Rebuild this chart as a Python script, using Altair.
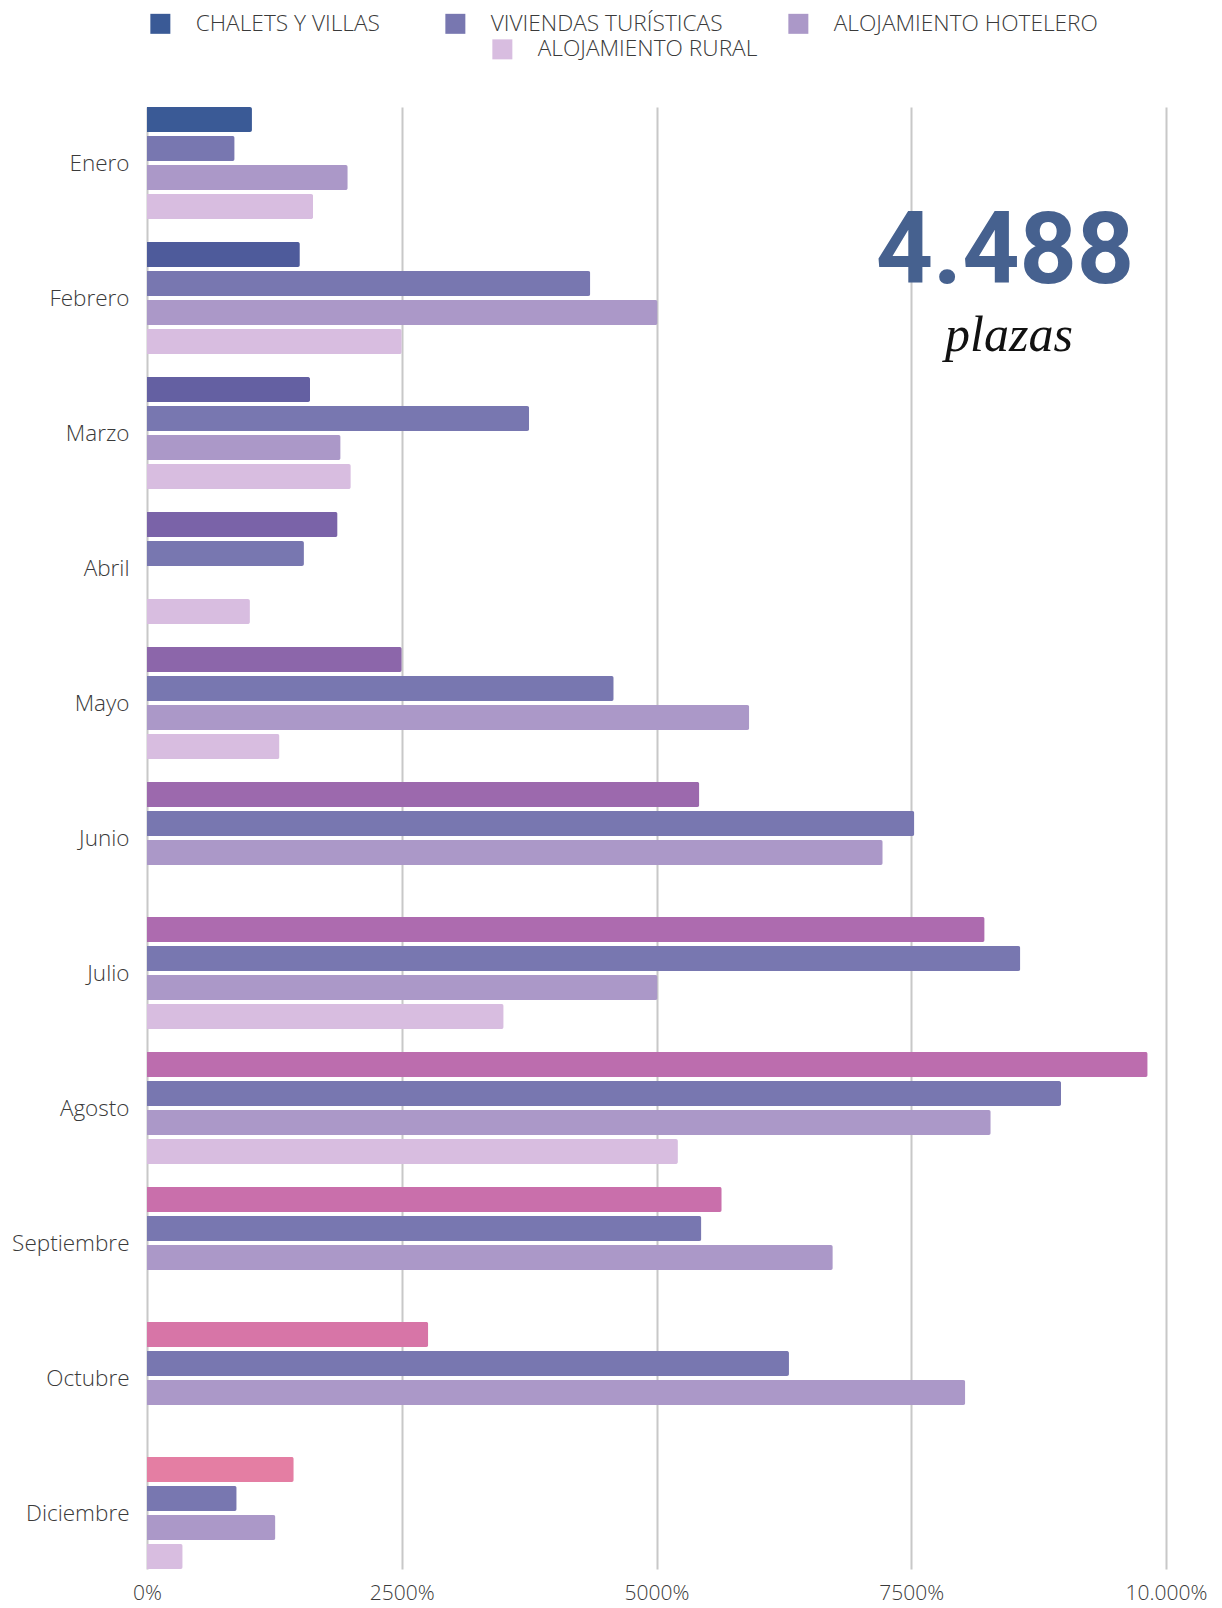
import altair as alt
import pandas as pd

months = ["Enero", "Febrero", "Marzo", "Abril", "Mayo", "Junio", "Julio",
          "Agosto", "Septiembre", "Octubre", "Diciembre"]
series = ["CHALETS Y VILLAS", "VIVIENDAS TURÍSTICAS", "ALOJAMIENTO HOTELERO", "ALOJAMIENTO RURAL"]

chalets = [1030, 1500, 1600, 1870, 2500, 5420, 8220, 9820, 5640, 2760, 1440]
viviendas = [860, 4350, 3750, 1540, 4580, 7530, 8570, 8970, 5440, 6300, 880]
hotelero = [1970, 5010, 1900, None, 5910, 7220, 5010, 8280, 6730, 8030, 1260]
rural = [1630, 2500, 2000, 1010, 1300, None, 3500, 5210, None, None, 350]

chalets_colors = ["#3a5a96", "#4e5b9b", "#6460a2", "#7a63a8", "#8c66aa", "#9c69ad",
                  "#ad6baf", "#bc6dae", "#c96fab", "#d775a7", "#e47ea3"]
series_colors = ["#3a5a96", "#7877b0", "#ab98c8", "#d8bde0"]

tick_values = [0, 2500, 5000, 7500, 10000]
tick_labels = ["0%", "2500%", "5000%", "7500%", "10.000%"]

big_number = "4.488"
big_caption = "plazas"

rows = []
for i, m in enumerate(months):
    for s, vals in zip(series, [chalets, viviendas, hotelero, rural]):
        rows.append({
            "mes": m,
            "serie": s,
            "valor": vals[i],
            "hex": chalets_colors[i] if s == series[0] else series_colors[series.index(s)],
        })
df = pd.DataFrame(rows)

label_expr = " : ".join(
    f"datum.value == {v} ? '{l}'" for v, l in zip(tick_values, tick_labels)
) + " : ''"

FONT = "Open Sans"

y_enc = alt.Y("mes:N", sort=months,
              scale=alt.Scale(domain=months, paddingInner=0.17, paddingOuter=0),
              axis=alt.Axis(title=None, domain=False, ticks=False, labelFontSize=22.5,
                            labelColor="#3a3a3a", labelFont=FONT, labelPadding=18,
                            labelFontWeight=300, labelOffset=1))
yoff_enc = alt.YOffset("serie:N", sort=series,
                       scale=alt.Scale(domain=series, paddingInner=0.14, paddingOuter=0))
x_enc = alt.X("valor:Q",
              scale=alt.Scale(domain=[0, 10000], nice=False),
              axis=alt.Axis(title=None, domain=False, ticks=False, grid=True,
                            gridColor="#c8c8c8", gridWidth=2, values=tick_values,
                            labelExpr=label_expr, labelFontSize=21, labelColor="#3a3a3a",
                            labelFont=FONT, labelPadding=13, labelOverlap=False,
                            labelBound=False, labelFlush=False, labelFontWeight=300))

base = alt.Chart(df)

bar_kw = dict(cornerRadiusEnd=2)

layer_chalets = base.transform_filter(
    alt.datum.serie == series[0]
).mark_bar(**bar_kw).encode(
    y=y_enc, yOffset=yoff_enc, x=x_enc,
    color=alt.Color("hex:N", scale=None),
)

legend_common = dict(
    title=None, orient="none", direction="horizontal", padding=0,
    symbolType="square", symbolSize=400, symbolStrokeWidth=0, symbolOpacity=1,
    labelFont=FONT, labelFontSize=22.7, labelColor="#3a3a3a", labelFontWeight=300,
    labelOffset=24, columnPadding=64, labelLimit=400,
)

layer_mid = base.transform_filter(
    alt.FieldOneOfPredicate(field="serie", oneOf=series[1:3])
).mark_bar(**bar_kw).encode(
    y=y_enc, yOffset=yoff_enc, x=x_enc,
    color=alt.Color("serie:N",
                    scale=alt.Scale(domain=series[0:3], range=series_colors[0:3]),
                    legend=alt.Legend(legendX=2, legendY=-95, **legend_common)),
)

layer_rural = base.transform_filter(
    alt.datum.serie == series[3]
).mark_bar(**bar_kw).encode(
    y=y_enc, yOffset=yoff_enc, x=x_enc,
    color=alt.Color("serie:N",
                    scale=alt.Scale(domain=series[3:4], range=series_colors[3:4]),
                    legend=alt.Legend(legendX=344, legendY=-69, **legend_common)),
)

txt_big = alt.Chart(pd.DataFrame({"t": [big_number]})).mark_text(
    font="Roboto", fontWeight="bold", fontSize=100,
    color="#46618f", align="center", baseline="alphabetic"
).encode(text="t:N", x=alt.value(858), y=alt.value(176))

txt_cap = alt.Chart(pd.DataFrame({"t": [big_caption]})).mark_text(
    font="Liberation Serif", fontStyle="italic", fontSize=50,
    color="#111111", align="center", baseline="alphabetic"
).encode(text="t:N", x=alt.value(862), y=alt.value(244))

chart = alt.layer(layer_chalets, layer_mid, layer_rural, txt_big, txt_cap).resolve_scale(
    color="independent"
).properties(
    width=1019, height=1462,
    padding={"left": 139, "top": 99, "right": 48, "bottom": 39},
    autosize=alt.AutoSizeParams(type="none"),
    background="white",
).configure_view(stroke=None)

chart.save("out.html", embed_options={"renderer": "svg", "actions": False})
